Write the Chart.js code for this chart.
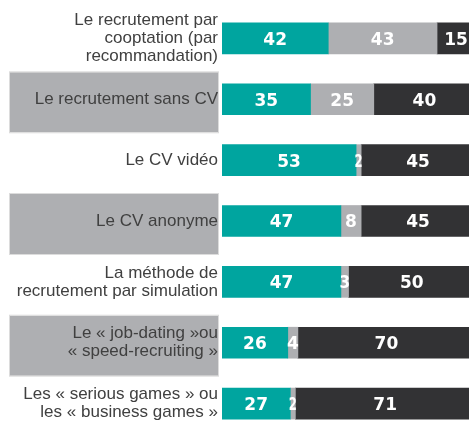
<!DOCTYPE html>
<html>
<head>
<meta charset="utf-8">
<script src="https://cdn.jsdelivr.net/npm/chart.js@4"></script>
<style>
  html, body { margin: 0; padding: 0; background: #fff; overflow: hidden; }
  #wrap { width: 475px; height: 435px; }
</style>
</head>
<body>
<div id="wrap"><canvas id="methodsChart" width="475" height="435"></canvas></div>
<script>
const categories = [
  ['Le recrutement par', 'cooptation (par', 'recommandation)'],
  'Le recrutement sans CV',
  'Le CV vidéo',
  'Le CV anonyme',
  ['La méthode de', 'recrutement par simulation'],
  ['Le « job-dating »ou', '« speed-recruiting »'],
  ['Les « serious games » ou', 'les « business games »']
];
const tealValues = [42, 35, 53, 47, 47, 26, 27];
const greyValues = [43, 25, 2, 8, 3, 4, 2];
const darkValues = [15, 40, 45, 45, 50, 70, 71];
const shadedRows = [1, 3, 5];

// grey boxes behind every other label
const labelBoxes = {
  id: 'labelBoxes',
  beforeDraw(chart) {
    const ctx = chart.ctx;
    const y = chart.scales.y;
    ctx.save();
    shadedRows.forEach(i => {
      const cy = y.getPixelForValue(i) + 3;
      ctx.fillStyle = '#aeafb2';
      ctx.fillRect(10, cy - 30, chart.chartArea.left - 14, 60);
      ctx.strokeStyle = '#dcdcdc';
      ctx.lineWidth = 1;
      ctx.strokeRect(9.5, cy - 30.5, chart.chartArea.left - 13, 61);
    });
    ctx.restore();
  }
};

// white numbers inside the segments, squeezed when the segment is narrow
const segmentLabels = {
  id: 'segmentLabels',
  afterDatasetsDraw(chart) {
    const ctx = chart.ctx;
    ctx.save();
    ctx.font = 'bold 17px "DejaVu Sans", sans-serif';
    ctx.fillStyle = '#ffffff';
    ctx.textAlign = 'center';
    ctx.textBaseline = 'middle';
    chart.data.datasets.forEach((ds, di) => {
      chart.getDatasetMeta(di).data.forEach((bar, i) => {
        const txt = String(ds.data[i]);
        const w = bar.x - bar.base;
        const cx = (bar.x + bar.base) / 2;
        const tw = ctx.measureText(txt).width;
        ctx.save();
        ctx.translate(cx, bar.y + 2);
        if (tw > w + 3) ctx.scale((w + 3) / tw, 1);
        ctx.fillText(txt, 0, 0);
        ctx.restore();
      });
    });
    ctx.restore();
  }
};

const ctx = document.getElementById('methodsChart').getContext('2d');
new Chart(ctx, {
  type: 'bar',
  data: {
    labels: categories,
    datasets: [
      { label: 'teal', data: tealValues, backgroundColor: '#00a59f' },
      { label: 'grey', data: greyValues, backgroundColor: '#aeafb2' },
      { label: 'dark', data: darkValues, backgroundColor: '#323234' }
    ]
  },
  options: {
    responsive: false,
    animation: false,
    indexAxis: 'y',
    layout: { padding: { top: 8, bottom: 1, left: 0, right: 0 } },
    datasets: { bar: { barThickness: 31, borderWidth: 0 } },
    plugins: { legend: { display: false }, tooltip: { enabled: false } },
    scales: {
      x: { stacked: true, min: 0, max: 100, display: false },
      y: {
        stacked: true,
        border: { display: false },
        grid: { display: false, drawTicks: false },
        afterFit(scale) {
          scale.width = 222;
          scale.paddingTop = 0;
          scale.paddingBottom = 0;
        },
        ticks: {
          padding: 4,
          color: '#404040',
          font: { family: '"Liberation Sans", Arial, sans-serif', size: 17, lineHeight: '18px' }
        }
      }
    }
  },
  plugins: [labelBoxes, segmentLabels]
});
</script>
</body>
</html>
